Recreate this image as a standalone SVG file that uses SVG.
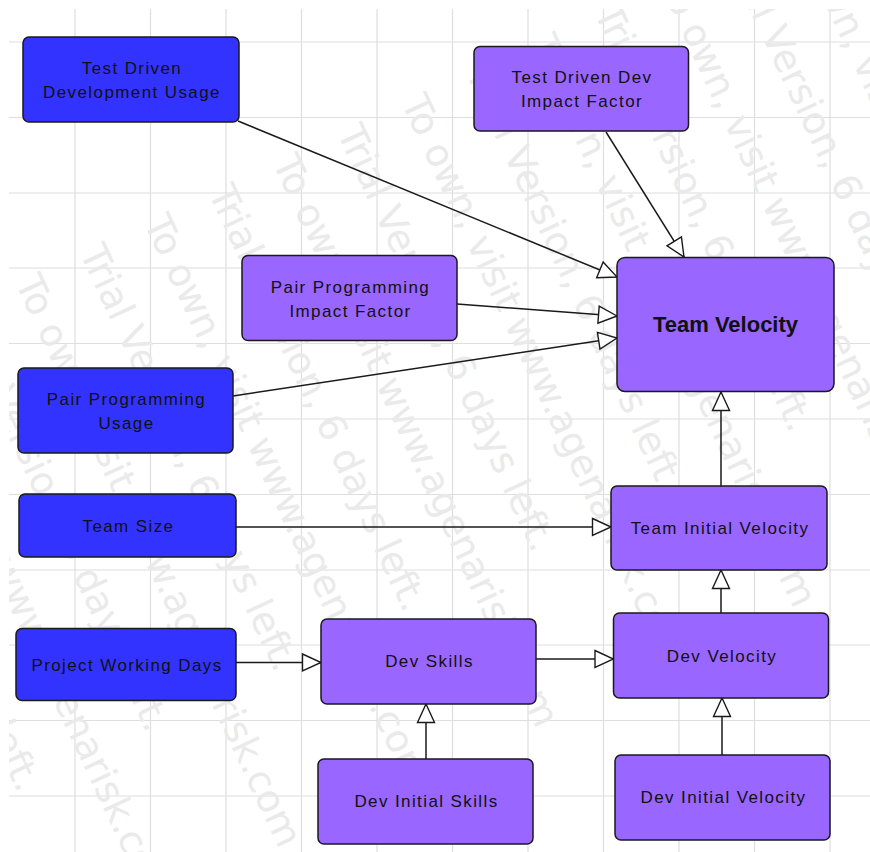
<svg xmlns="http://www.w3.org/2000/svg" width="870" height="852" viewBox="0 0 870 852">
  <style>
    .grid line { stroke: #dedede; stroke-width: 1.2; }
    .wm text { font-family: "DejaVu Sans", "Liberation Sans", sans-serif; font-size: 38px; fill: #eaeaea; }
    .node rect { stroke: #1a1a1a; stroke-width: 1.5; }
    .input rect { fill: #3333ff; }
    .calc rect { fill: #9966ff; }
    .node text { font-family: "Liberation Sans", Arial, sans-serif; font-size: 17px; letter-spacing: 1.4px; fill: #111; text-anchor: middle; }
    .node text.big { font-size: 22px; font-weight: bold; letter-spacing: 0; }
    .edges line { stroke: #1a1a1a; stroke-width: 1.5; marker-end: url(#arrow); }
  </style>
  <defs>
    <marker id="arrow" viewBox="0 0 22 20" markerWidth="22" markerHeight="20" refX="20.5" refY="10" orient="auto" markerUnits="userSpaceOnUse">
      <path d="M2,1.5 L20.5,10 L2,18.5 Z" fill="#fff" stroke="#1a1a1a" stroke-width="1.4"/>
    </marker>
    <clipPath id="canvas">
      <rect x="9" y="9" width="861" height="843"/>
    </clipPath>
  </defs>

  <rect width="870" height="852" fill="#fff"/>

  <!-- canvas grid -->
  <g class="grid">
    <line x1="75" y1="9" x2="75" y2="852"/>
    <line x1="150.5" y1="9" x2="150.5" y2="852"/>
    <line x1="226" y1="9" x2="226" y2="852"/>
    <line x1="301.5" y1="9" x2="301.5" y2="852"/>
    <line x1="377" y1="9" x2="377" y2="852"/>
    <line x1="452.5" y1="9" x2="452.5" y2="852"/>
    <line x1="528" y1="9" x2="528" y2="852"/>
    <line x1="603.5" y1="9" x2="603.5" y2="852"/>
    <line x1="679" y1="9" x2="679" y2="852"/>
    <line x1="754.5" y1="9" x2="754.5" y2="852"/>
    <line x1="830" y1="9" x2="830" y2="852"/>
    <line x1="9" y1="42" x2="870" y2="42"/>
    <line x1="9" y1="117.5" x2="870" y2="117.5"/>
    <line x1="9" y1="193" x2="870" y2="193"/>
    <line x1="9" y1="268" x2="870" y2="268"/>
    <line x1="9" y1="343.5" x2="870" y2="343.5"/>
    <line x1="9" y1="419" x2="870" y2="419"/>
    <line x1="9" y1="494.5" x2="870" y2="494.5"/>
    <line x1="9" y1="570" x2="870" y2="570"/>
    <line x1="9" y1="645" x2="870" y2="645"/>
    <line x1="9" y1="720.5" x2="870" y2="720.5"/>
    <line x1="9" y1="796" x2="870" y2="796"/>
  </g>

  <!-- trial watermark, tiled diagonally across the canvas -->
  <g clip-path="url(#canvas)">
    <g class="wm" transform="rotate(65)">
      <text x="262" y="-746">To own, visit www.agenarisk.com</text>
      <text x="262" y="-675">Trial Version, 6 days left.</text>
      <text x="262" y="-604">To own, visit www.agenarisk.com</text>
      <text x="262" y="-533">Trial Version, 6 days left.</text>
      <text x="262" y="-462">To own, visit www.agenarisk.com</text>
      <text x="262" y="-391">Trial Version, 6 days left.</text>
      <text x="262" y="-320">To own, visit www.agenarisk.com</text>
      <text x="262" y="-249">Trial Version, 6 days left.</text>
      <text x="262" y="-178">To own, visit www.agenarisk.com</text>
      <text x="262" y="-107">Trial Version, 6 days left.</text>
      <text x="262" y="-36">To own, visit www.agenarisk.com</text>
      <text x="262" y="35">Trial Version, 6 days left.</text>
      <text x="262" y="106">To own, visit www.agenarisk.com</text>
      <text x="262" y="177">Trial Version, 6 days left.</text>
      <text x="262" y="248">To own, visit www.agenarisk.com</text>
      <text x="262" y="319">Trial Version, 6 days left.</text>
    </g>
  </g>

  <!-- connectors -->
  <g class="edges">
    <line x1="238" y1="121" x2="617" y2="277"/>
    <line x1="606" y1="132" x2="684" y2="257"/>
    <line x1="457" y1="304" x2="617" y2="316"/>
    <line x1="233" y1="396" x2="617" y2="338"/>
    <line x1="236" y1="527" x2="611" y2="527"/>
    <line x1="721" y1="486" x2="721" y2="392"/>
    <line x1="721" y1="613" x2="721" y2="570"/>
    <line x1="236" y1="662.5" x2="321" y2="662.5"/>
    <line x1="536" y1="659" x2="613.5" y2="659"/>
    <line x1="426" y1="759" x2="426" y2="704"/>
    <line x1="722" y1="755" x2="722" y2="698"/>
  </g>

  <!-- nodes -->
  <g id="test-driven-development-usage" class="node input">
    <rect x="23" y="37" width="216" height="85" rx="6"/>
    <text x="132" y="74">Test Driven</text>
    <text x="132" y="98">Development Usage</text>
  </g>
  <g id="test-driven-dev-impact-factor" class="node calc">
    <rect x="474" y="46.5" width="214.5" height="84.5" rx="6"/>
    <text x="582" y="83">Test Driven Dev</text>
    <text x="582" y="107">Impact Factor</text>
  </g>
  <g id="pair-programming-impact-factor" class="node calc">
    <rect x="242" y="255.5" width="215" height="85" rx="6"/>
    <text x="350.5" y="292.5">Pair Programming</text>
    <text x="350.5" y="316.5">Impact Factor</text>
  </g>
  <g id="pair-programming-usage" class="node input">
    <rect x="18" y="368" width="215" height="85" rx="6"/>
    <text x="126.5" y="405">Pair Programming</text>
    <text x="126.5" y="429">Usage</text>
  </g>
  <g id="team-velocity" class="node calc">
    <rect x="617" y="257.5" width="217" height="134" rx="8"/>
    <text class="big" x="725.5" y="332">Team Velocity</text>
  </g>
  <g id="team-size" class="node input">
    <rect x="19" y="494" width="217" height="63" rx="6"/>
    <text x="128.5" y="531.5">Team Size</text>
  </g>
  <g id="project-working-days" class="node input">
    <rect x="16" y="628.5" width="220" height="72" rx="6"/>
    <text x="127" y="670.5">Project Working Days</text>
  </g>
  <g id="team-initial-velocity" class="node calc">
    <rect x="611" y="486" width="216" height="84" rx="6"/>
    <text x="720" y="533.5">Team Initial Velocity</text>
  </g>
  <g id="dev-skills" class="node calc">
    <rect x="321" y="619" width="215" height="85" rx="6"/>
    <text x="429.5" y="667">Dev Skills</text>
  </g>
  <g id="dev-velocity" class="node calc">
    <rect x="613.5" y="613" width="215" height="85" rx="6"/>
    <text x="722" y="661.5">Dev Velocity</text>
  </g>
  <g id="dev-initial-skills" class="node calc">
    <rect x="318" y="759" width="215" height="85" rx="6"/>
    <text x="426.5" y="807">Dev Initial Skills</text>
  </g>
  <g id="dev-initial-velocity" class="node calc">
    <rect x="615" y="755" width="215" height="85" rx="6"/>
    <text x="723.5" y="803">Dev Initial Velocity</text>
  </g>
</svg>
